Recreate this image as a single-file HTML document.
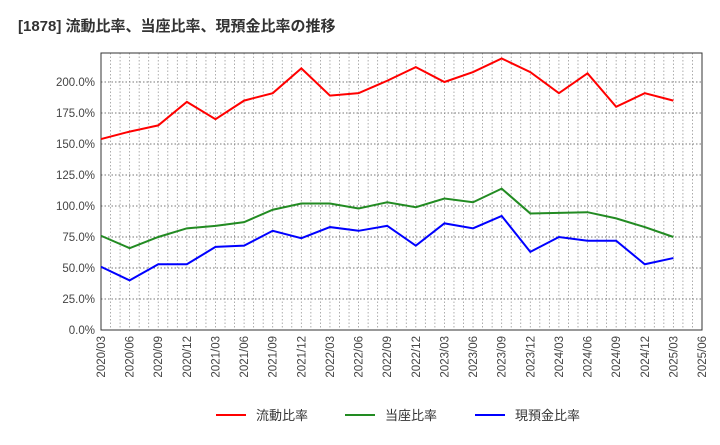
<!DOCTYPE html>
<html><head><meta charset="utf-8"><style>
body{margin:0;background:#fff;width:720px;height:440px;overflow:hidden;font-family:"Liberation Sans","Noto Sans CJK JP",sans-serif;}
</style></head><body>
<svg width="720" height="440">
<text x="18" y="31" font-size="15" font-weight="bold" fill="#333" font-family="Liberation Sans, Noto Sans CJK JP, sans-serif">[1878]  流動比率、当座比率、現預金比率の推移</text>
<g id="grid"></g><g id="axes"></g><g id="series"></g>
<g font-size="13" fill="#333" font-family="Liberation Sans, Noto Sans CJK JP, sans-serif">
<line x1="216" y1="415" x2="246" y2="415" stroke="#f00" stroke-width="2"/><text x="256" y="420">流動比率</text>
<line x1="345" y1="415" x2="375" y2="415" stroke="#228b22" stroke-width="2"/><text x="385" y="420">当座比率</text>
<line x1="475" y1="415" x2="505" y2="415" stroke="#00f" stroke-width="2"/><text x="515" y="420">現預金比率</text>
</g>
</svg>
<script>
const xLabels=["2020/03","2020/06","2020/09","2020/12","2021/03","2021/06","2021/09","2021/12","2022/03","2022/06","2022/09","2022/12","2023/03","2023/06","2023/09","2023/12","2024/03","2024/06","2024/09","2024/12","2025/03","2025/06"];
const yTicks=[0,25,50,75,100,125,150,175,200];
const currentRatio=[154,160,165,184,170,185,191,211,189,191,201,212,200,208,219,208,191,207,180,191,185];
const quickRatio=[76,66,75,82,84,87,97,102,102,98,103,99,106,103,114,94,94.5,95,90,83,75];
const cashRatio=[51,40,53,53,67,68,80,74,83,80,84,68,86,82,92,63,75,72,72,53,58];
const L=101,R=702,T=53,B=330;
const NS="http://www.w3.org/2000/svg";
const xs=i=>L+(R-L)*i/(xLabels.length-1);
const ys=v=>B-(B-82)*v/200;
function mk(tag,attrs,parent){const e=document.createElementNS(NS,tag);for(const k in attrs)e.setAttribute(k,attrs[k]);parent.appendChild(e);return e;}
const grid=document.getElementById('grid'),axes=document.getElementById('axes'),ser=document.getElementById('series');
const nM=(xLabels.length-1)*3;
for(let m=1;m<nM;m++){const x=L+(R-L)*m/nM;const l=mk('line',{x1:x,y1:T,x2:x,y2:B,stroke:'#999','stroke-dasharray':'1.5,2','stroke-width':0.8},grid);}
yTicks.forEach(v=>{const y=ys(v);if(v>0){const l=mk('line',{x1:L,y1:y,x2:R,y2:y,stroke:'#777','stroke-dasharray':'1.5,2','stroke-width':0.9},grid);}
const t=mk('text',{x:L-6,y:y+4,'text-anchor':'end','font-size':11.5,fill:'#444'},axes);t.textContent=v.toFixed(1)+'%';});
const fr=mk('rect',{x:L,y:T,width:R-L,height:B-T,fill:'none',stroke:'#333','stroke-width':1},axes);

xLabels.forEach((s,i)=>{const x=xs(i)+4;const t=mk('text',{x:x,y:B+6,transform:`rotate(-90 ${x} ${B+6})`,'text-anchor':'end','font-size':11.5,fill:'#444'},axes);t.textContent=s;});
[[currentRatio,'#f00','current-ratio-line'],[quickRatio,'#228b22','quick-ratio-line'],[cashRatio,'#00f','cash-ratio-line']].forEach(([d,c,n])=>{
const p=mk('polyline',{points:d.map((v,i)=>xs(i)+','+ys(v)).join(' '),fill:'none',stroke:c,'stroke-width':2},ser);
});
</script>
</body></html>
